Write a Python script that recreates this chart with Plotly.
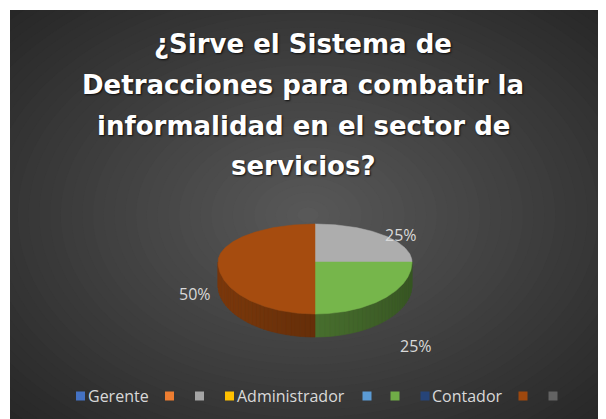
import math
import plotly.graph_objects as go

# ---------------- data ----------------
CATEGORIES = ["Gerente", "", "", "Administrador", "", "", "Contador", "", ""]
VALUES = [0, 0, 1, 0, 0, 1, 0, 2, 0]
COLORS = ["#4472C4", "#ED7D31", "#A5A5A5", "#FFC000", "#5B9BD5",
          "#70AD47", "#264478", "#9E480E", "#636363"]
TITLE_LINES = ["¿Sirve el Sistema de", "Detracciones para combatir la",
               "informalidad en el sector de", "servicios?"]

# ---------------- layout constants ----------------
PAGE = 8            # default body margin of the html page
W, H = 606, 419     # window size
OX, OY = 10, 10     # top-left of the dark chart panel (window pixels)
CX, CY = 315, 262
RX, RY_BACK, RY_FRONT, DEPTH = 97, 38, 52, 23
LABEL_K = 1.25
LABEL_NUDGE = {2: (0, 7), 5: (15, 38), 7: (1, 32)}
LEGEND_X = [80.5, 169.5, 199.5, 229.5, 367, 395, 425, 523, 553]
LEGEND_Y = 396
TITLE_Y = [44, 85, 126, 166]
TEXT_COL = "#D9D9D9"
FONT = "Open Sans"
TITLE_FONT = "DejaVu Sans"


def rgb(h):
    h = h.lstrip("#")
    return [int(h[i:i + 2], 16) for i in (0, 2, 4)]


def shade(h, f):
    r, g, b = rgb(h)
    return "rgb(%d,%d,%d)" % tuple(max(0, min(255, round(c * f))) for c in (r, g, b))


def mix(c1, c2, t):
    a, b = rgb(c1), rgb(c2)
    return "rgb(%d,%d,%d)" % tuple(round(a[i] + (b[i] - a[i]) * t) for i in range(3))


def pt(a_deg, dy=0.0):
    a = math.radians(a_deg)
    s, c = math.sin(a), math.cos(a)
    ry = RY_BACK if c > 0 else RY_FRONT
    return CX + RX * s, CY - ry * c + dy


fig = go.Figure()

# slices from data
total = sum(VALUES)
slices = []
start = 0.0
for i, v in enumerate(VALUES):
    if v <= 0:
        continue
    a0, a1 = start, start + 360.0 * v / total
    slices.append((i, a0, a1, v))
    start = a1

# side walls (front half)
for i, a0, a1, v in slices:
    lo, hi = max(a0, 90), min(a1, 270)
    if hi <= lo:
        continue
    n = int((hi - lo) / 3) + 1
    step = (hi - lo) / n
    for k in range(n):
        b0 = lo + k * step
        b1 = b0 + step
        p0, p1 = pt(b0), pt(b1)
        q1, q0 = pt(b1, DEPTH), pt(b0, DEPTH)
        xm = (p0[0] + p1[0]) / 2
        f = 0.64 + 0.14 * (CX - xm) / RX
        col = shade(COLORS[i], f)
        fig.add_trace(go.Scatter(
            x=[p0[0], p1[0], q1[0], q0[0], p0[0]],
            y=[p0[1], p1[1], q1[1], q0[1], p0[1]],
            fill="toself", fillcolor=col, mode="lines",
            line=dict(color=col, width=0.6), hoverinfo="skip", showlegend=False))

# top faces
for i, a0, a1, v in slices:
    n = max(2, int(a1 - a0))
    xs, ys = [CX], [CY]
    for k in range(n + 1):
        x, y = pt(a0 + (a1 - a0) * k / n)
        xs.append(x)
        ys.append(y)
    xs.append(CX)
    ys.append(CY)
    col = shade(COLORS[i], 1.05)
    fig.add_trace(go.Scatter(
        x=xs, y=ys, fill="toself", fillcolor=col, mode="lines",
        line=dict(color=col, width=0.5), hoverinfo="skip", showlegend=False))

annotations = []
# data labels
for i, a0, a1, v in slices:
    m = math.radians((a0 + a1) / 2)
    s, c = math.sin(m), math.cos(m)
    ry = RY_BACK if c > 0 else RY_FRONT
    dx, dy = LABEL_NUDGE.get(i, (0, 0))
    annotations.append(dict(
        x=CX + LABEL_K * RX * s + dx, y=CY - LABEL_K * ry * c + dy,
        xref="x", yref="y", text="%d%%" % round(100 * v / total),
        showarrow=False, font=dict(family=FONT, size=16, color=TEXT_COL),
        xanchor="center", yanchor="middle"))

# title
for line, ty in zip(TITLE_LINES, TITLE_Y):
    annotations.append(dict(
        x=303, y=ty, xref="x", yref="y", text="<b>%s</b>" % line,
        showarrow=False, xanchor="center", yanchor="middle",
        font=dict(family=TITLE_FONT, size=26, color="#FFFFFF",
                  shadow="1px 1px 2px rgba(0,0,0,0.8)")))

# legend (manual)
fig.add_trace(go.Scatter(
    x=LEGEND_X, y=[LEGEND_Y] * len(LEGEND_X), mode="markers",
    marker=dict(symbol="square", size=9, color=COLORS, line=dict(width=0)),
    hoverinfo="skip", showlegend=False))
for name, lx in zip(CATEGORIES, LEGEND_X):
    if name:
        annotations.append(dict(
            x=lx + 5, y=LEGEND_Y, xref="x", yref="y", text=name,
            showarrow=False, xanchor="left", yanchor="middle",
            font=dict(family=FONT, size=16, color=TEXT_COL)))

# radial background gradient
shapes = []
GX, GY = 308, 215
RXM, RYM = 430, 300
N = 40
for k in range(N):
    t = 1 - k / N
    col = mix("#595959", "#262626", t)
    shapes.append(dict(
        type="circle", xref="x", yref="y", layer="below",
        x0=GX - RXM * t, x1=GX + RXM * t, y0=GY - RYM * t, y1=GY + RYM * t,
        fillcolor=col, line=dict(width=0)))

fig.update_layout(
    width=W - PAGE, height=H - PAGE,
    margin=dict(l=OX - PAGE, t=OY - PAGE, r=0, b=0, pad=0),
    paper_bgcolor="#FFFFFF", plot_bgcolor="#262626",
    xaxis=dict(range=[OX, W], visible=False, fixedrange=True),
    yaxis=dict(range=[H, OY], visible=False, fixedrange=True),
    annotations=annotations, shapes=shapes, showlegend=False,
)

fig.write_html("out.html", config={"displayModeBar": False})
